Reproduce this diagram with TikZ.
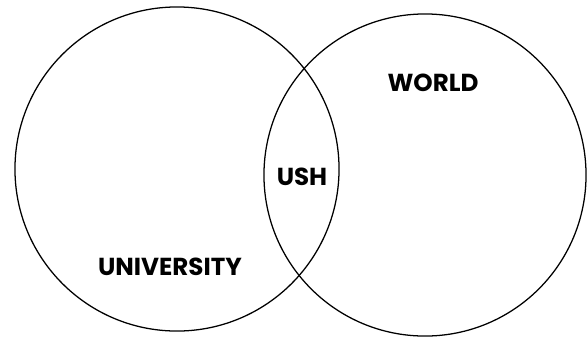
\documentclass[tikz,border=0pt]{standalone}
\usepackage{fontspec}
\setmainfont{Poppins}
\usepackage{tikz}
\usetikzlibrary{positioning}

\begin{document}
\begin{tikzpicture}[
    x=0.025cm, y=-0.025cm,
    ring/.style={draw,circle,line width=0.9pt,inner sep=0pt},
    lbl/.style={font=\bfseries\fontsize{17.5}{20}\selectfont,inner sep=0pt}
  ]
  \useasboundingbox (0,0) rectangle (587,337);
  \node[ring,minimum size=8.1cm] (univ) at (177,169) {};
  \node[ring,minimum size=8.05cm] (world) at (425,175) {};
  \node[lbl] (ulabel) at (170,267) {UNIVERSITY};
  \node[lbl] (wlabel) at (433,83) {WORLD};
  \node[lbl] (ush) at (302,177) {USH};
\end{tikzpicture}
\end{document}
